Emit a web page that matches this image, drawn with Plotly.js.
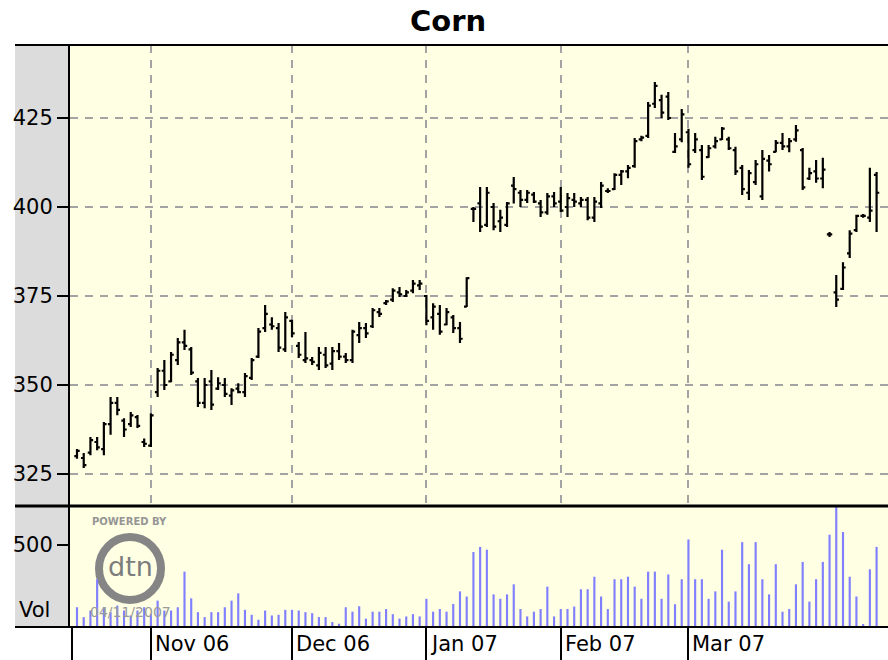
<!DOCTYPE html>
<html>
<head>
<meta charset="utf-8">
<script src="https://cdn.plot.ly/plotly-3.0.1.min.js"></script>
<style>
  html, body { margin: 0; padding: 0; background: #ffffff; }
  #chart { width: 888px; height: 660px; }
</style>
</head>
<body>
<div id="chart"></div>
<script>
// ---- Data (daily bars, Oct 2006 - Apr 2007) ----
const openVals = [
  330, 329.5, 331, 334, 332, 339, 345, 340, 339, 341, 334, 333,
  348, 354, 351, 357, 362, 360, 351, 345, 351, 349, 350, 347, 349, 348, 352, 358, 366, 367, 366, 360,
  368, 361, 357, 357, 355.5, 358.5, 356, 359.5, 358, 357, 364, 366, 366.5, 370.5, 373, 374, 376, 375, 376.5, 378,
  375, 369, 370, 367, 369, 366, 372, 399.5, 401, 395, 400, 396, 395, 406, 404, 402, 403.5, 401, 398.5, 403,
  401.5, 400, 402, 401, 402, 397, 401, 404.5, 405, 409, 410, 411.5, 419, 420, 429, 430, 431, 415.5, 419,
  421, 416, 416, 414, 417, 419, 419, 416, 411, 404, 407, 403, 413, 415.5, 418, 417, 419, 416, 408, 410, 408, 392.3,
  376, 377, 387, 393.5, 397.5, 397, 409
];
const highVals = [
  332, 330.9, 335.4, 335.4, 339.6, 346.6, 346.6, 340.7, 342.4, 341.6, 335, 342.1,
  354.8, 357, 359.3, 363.2, 365.5, 360.7, 352, 352, 354.2, 352.2, 352, 349.1, 350.5, 353.4, 357.6, 366, 372.5, 369, 367.4, 370.5,
  368.3, 362.1, 364.9, 357.9, 360.7, 360.7, 360.7, 361.8, 359, 365.5, 367.7, 367.4, 371.6, 371.6, 373.9, 377.2, 377.5, 376.7, 379.5, 379.5,
  375.3, 373, 372.5, 371.6, 369.7, 367.7, 380.3, 400, 405.6, 405.6, 401.1, 399.2, 401.4, 408.4, 404.8, 404.8, 404.2, 402, 403.9, 404.2,
  405.6, 403.9, 403.9, 402.8, 402.8, 402.8, 407, 405.3, 409.5, 410.4, 411.8, 419.4, 420, 429.5, 435.1, 431.5, 432.3, 420.8, 427.5,
  422, 420.8, 417.4, 417.4, 419.7, 422.5, 419.7, 416.9, 411.8, 410.4, 413.2, 416, 414.6, 418.8, 420.8, 419.4, 423, 416.6, 411, 413.2, 413.8, 393,
  380.9, 384.5, 393.5, 397.8, 398, 411, 409.8
];
const lowVals = [
  329.3, 326.7, 330.3, 331.7, 330.3, 336, 341.5, 335.4, 338.2, 337.9, 332.6, 332.6,
  346.6, 348.6, 350.8, 355.6, 359.8, 352.8, 343.8, 343.5, 343, 348.6, 346.6, 344.4, 347.7, 346.6, 351.4, 357.6, 364.9, 365.5, 359.3, 359.3,
  363.5, 357.6, 356.2, 355.6, 354.2, 354.8, 354.2, 357, 356.2, 356.2, 361.8, 363.2, 366, 369.1, 372.5, 373.3, 374.7, 374.7, 375.8, 376.7,
  366.8, 365.5, 364.1, 366.8, 364.6, 361.8, 371.9, 395.8, 393, 394.4, 393.5, 393, 394.4, 401, 400, 401.1, 401.1, 397.2, 397.8, 400,
  398.6, 397.2, 400, 400, 396.3, 395.8, 399.7, 403.9, 404.8, 406.2, 408.1, 411, 418.5, 419.4, 427.8, 425, 424.4, 415.2, 418.2,
  411, 415.2, 407.6, 413.8, 416.4, 418.8, 416, 409, 403.4, 402, 406.2, 402, 410, 415.4, 416, 415.4, 418.3, 404.8, 407.6, 406.8, 405.3, 391.6,
  371.9, 376.7, 385.7, 393, 397, 395.8, 393
];
const closeVals = [
  331.5, 327.5, 334.5, 332.5, 339, 345, 343, 337.5, 341.5, 338.5, 333.5, 341.5,
  354, 350, 358.5, 362, 361, 353.5, 345, 350, 344.5, 350.5, 347.5, 348.5, 348, 352.5, 357, 365, 370, 366.5, 360.5, 369,
  364.5, 358.5, 357.5, 356.5, 359, 355.5, 359.5, 358, 357, 365, 366, 364.5, 371, 370, 373.5, 376.5, 375.5, 376, 378.5, 378.5,
  368, 372, 365, 370.5, 366, 363, 380, 399.5, 394.5, 404, 394.5, 397, 401, 405, 402, 404, 401.5, 398.5, 403, 401,
  399, 402.5, 401.5, 402, 397, 401.5, 406, 404.5, 409, 410, 411, 418.5, 419.5, 428.5, 434, 426.5, 425, 417, 426,
  412, 419, 408.5, 416.5, 418.5, 422, 416.5, 410, 405, 409.5, 412, 413.5, 412, 418, 417, 418.5, 421.5, 405.5, 409.5, 408, 410.5, 392.3,
  374, 383, 392.5, 397.5, 397.5, 399, 404
];
const volumeVals = [
  120, 60, 100, 290, 120, 90, 130, 100, 70, 100, 120, 80,
  160, 100, 100, 120, 336, 174, 90, 60, 90, 90, 120, 160, 204, 104, 74, 44, 100, 70, 74, 104,
  104, 100, 90, 84, 60, 60, 30, 20, 120, 93, 126, 51, 93, 93, 109, 78, 51, 64, 78, 64,
  171, 93, 109, 93, 140, 216, 185, 455, 486, 469, 198, 171, 198, 259, 109, 64, 93, 109, 245, 64,
  109, 109, 124, 229, 229, 305, 185, 109, 290, 290, 305, 245, 171, 336, 336, 171, 319, 138, 290,
  531, 290, 290, 171, 216, 469, 154, 216, 515, 381, 515, 290, 198, 381, 93, 109, 259, 395, 154, 290, 395, 560,
  751, 576, 305, 185, 18, 350, 486
];
// Trading-day index of the first bar of each month, and the month labels
const monthStartIndex = [11, 32, 52, 72, 91];
const monthLabels = ["Nov 06", "Dec 06", "Jan 07", "Feb 07", "Mar 07"];
const priceTicks = [325, 350, 375, 400, 425];
const volumeTicks = [500];

// ---- Chart ----
const dayIndex = openVals.map((_, i) => i);
const FONT = "DejaVu Sans";

const ohlc = {
  type: "ohlc",
  x: dayIndex, open: openVals, high: highVals, low: lowVals, close: closeVals,
  xaxis: "x2", yaxis: "y",
  increasing: { line: { color: "#000000", width: 2.2 } },
  decreasing: { line: { color: "#000000", width: 2.2 } },
  tickwidth: 0.4,
  hoverinfo: "skip",
  showlegend: false
};
const vol = {
  type: "bar",
  x: dayIndex, y: volumeVals,
  xaxis: "x", yaxis: "y2",
  width: 0.32,
  marker: { color: "#7f7fff", line: { width: 0 } },
  hoverinfo: "skip",
  showlegend: false
};

const L = 70, R = 0, T = 45, B = 33, W = 888, H = 660;
const pw = W - L - R, ph = H - T - B;
const px = v => (v - L) / pw;          // page x -> paper x
const py = v => (H - B - v) / ph;      // page y -> paper y

const gridColor = "#a3a3a3";
const shapes = [
  { type: "rect", xref: "paper", yref: "paper", x0: px(15), x1: 0, y0: 0, y1: 1,
    fillcolor: "#dcdcdc", line: { width: 0 }, layer: "below" },
  { type: "line", xref: "paper", yref: "paper", x0: px(15), x1: 1, y0: 1, y1: 1,
    line: { color: "#000", width: 2 } },
  { type: "line", xref: "paper", yref: "paper", x0: px(15), x1: 1, y0: py(506), y1: py(506),
    line: { color: "#000", width: 3 } },
  { type: "line", xref: "paper", yref: "paper", x0: px(15), x1: 1, y0: 0, y1: 0,
    line: { color: "#000", width: 2 } },
  { type: "line", xref: "paper", yref: "paper", x0: px(72), x1: px(72), y0: py(660), y1: 0,
    line: { color: "#000", width: 2 } },
  { type: "circle", xref: "paper", yref: "paper", x0: px(99), x1: px(161), y0: py(600), y1: py(537),
    line: { color: "#858585", width: 8 }, layer: "below" }
];

const annotations = monthLabels.map((t, i) => ({
  text: t, x: monthStartIndex[i], xref: "x", y: py(644), yref: "paper",
  xanchor: "left", yanchor: "middle", xshift: 2, showarrow: false,
  font: { family: FONT, size: 21, color: "#000" }
}));
annotations.push(
  { text: "Vol", xref: "paper", x: px(17), yref: "paper", y: py(610), xanchor: "left", yanchor: "middle",
    showarrow: false, font: { family: FONT, size: 21, color: "#000" } },
  { text: "<b>POWERED BY</b>", xref: "paper", x: px(129), yref: "paper", y: py(521), xanchor: "center", yanchor: "middle",
    showarrow: false, font: { family: FONT, size: 10, color: "#959595" } },
  { text: "dtn", xref: "paper", x: px(130), yref: "paper", y: py(566), xanchor: "center", yanchor: "middle",
    showarrow: false, font: { family: FONT, size: 27, color: "#7d7d7d" } },
  { text: "04/11/2007", xref: "paper", x: px(130), yref: "paper", y: py(612), xanchor: "center", yanchor: "middle",
    showarrow: false, font: { family: FONT, size: 14, color: "#9a9a9a" } }
);

const layout = {
  width: W, height: H,
  margin: { l: L, r: R, t: T, b: B, pad: 0 },
  paper_bgcolor: "#ffffff",
  plot_bgcolor: "#ffffe3",
  showlegend: false,
  hovermode: false,
  dragmode: false,
  title: {
    text: "<b>Corn</b>", xref: "container", yref: "container",
    x: 448 / W, xanchor: "center", y: 1 - 21 / H, yanchor: "middle",
    font: { family: FONT, size: 29, color: "#000" }
  },
  xaxis: {
    domain: [0, 1], anchor: "y2", range: [-1.04, 120.7],
    rangeslider: { visible: false },
    tickmode: "array", tickvals: monthStartIndex, showticklabels: false,
    ticks: "outside", ticklen: 33, tickwidth: 2, tickcolor: "#000",
    showgrid: false, zeroline: false, showline: false, fixedrange: true
  },
  xaxis2: {
    domain: [0, 1], anchor: "y", matches: "x",
    rangeslider: { visible: false },
    tickmode: "array", tickvals: monthStartIndex, showticklabels: false, ticks: "",
    showgrid: true, gridcolor: gridColor, gridwidth: 2, griddash: "8px,7px",
    zeroline: false, showline: false, fixedrange: true
  },
  yaxis: {
    domain: [py(505), 1], anchor: "x2", range: [316.3, 445.5],
    tickmode: "array", tickvals: priceTicks,
    ticks: "outside", ticklen: 11, tickwidth: 2, tickcolor: "#000",
    tickfont: { family: FONT, size: 21, color: "#000" },
    showline: true, linecolor: "#000", linewidth: 2,
    showgrid: true, gridcolor: gridColor, gridwidth: 2, griddash: "8px,7px",
    zeroline: false, fixedrange: true
  },
  yaxis2: {
    domain: [0, py(507)], anchor: "x", range: [0, 728],
    tickmode: "array", tickvals: volumeTicks,
    ticks: "outside", ticklen: 11, tickwidth: 2, tickcolor: "#000",
    tickfont: { family: FONT, size: 21, color: "#000" },
    showline: true, linecolor: "#000", linewidth: 2,
    showgrid: false, zeroline: false, fixedrange: true
  },
  shapes: shapes,
  annotations: annotations
};

Plotly.newPlot("chart", [ohlc, vol], layout, { displayModeBar: false, staticPlot: true });
</script>
</body>
</html>
